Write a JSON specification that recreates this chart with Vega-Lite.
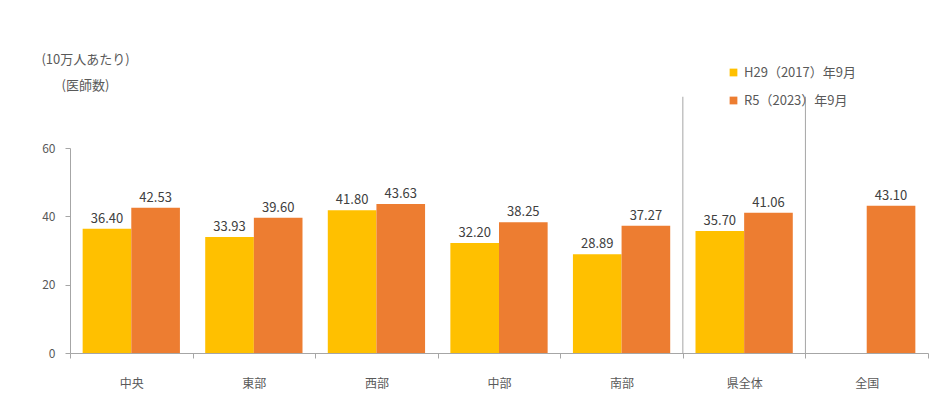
{
  "$schema": "https://vega.github.io/schema/vega-lite/v6.json",
  "width": 858,
  "height": 205,
  "autosize": {"type": "none"},
  "padding": {"left": 70, "top": 148, "right": 17, "bottom": 48},
  "background": "white",
  "config": {
    "view": {"stroke": null},
    "font": "Noto Sans CJK JP",
    "axis": {"labelFont": "Noto Sans CJK JP", "titleFont": "Noto Sans CJK JP"},
    "legend": {"labelFont": "Noto Sans CJK JP"}
  },
  "datasets": {
    "bars": [
      {"region": "中央", "period": "H29（2017）年9月", "value": 36.40},
      {"region": "中央", "period": "R5（2023）年9月", "value": 42.53},
      {"region": "東部", "period": "H29（2017）年9月", "value": 33.93},
      {"region": "東部", "period": "R5（2023）年9月", "value": 39.60},
      {"region": "西部", "period": "H29（2017）年9月", "value": 41.80},
      {"region": "西部", "period": "R5（2023）年9月", "value": 43.63},
      {"region": "中部", "period": "H29（2017）年9月", "value": 32.20},
      {"region": "中部", "period": "R5（2023）年9月", "value": 38.25},
      {"region": "南部", "period": "H29（2017）年9月", "value": 28.89},
      {"region": "南部", "period": "R5（2023）年9月", "value": 37.27},
      {"region": "県全体", "period": "H29（2017）年9月", "value": 35.70},
      {"region": "県全体", "period": "R5（2023）年9月", "value": 41.06},
      {"region": "全国", "period": "R5（2023）年9月", "value": 43.10}
    ],
    "separators": [
      {"region": "県全体"},
      {"region": "全国"}
    ]
  },
  "layer": [
    {
      "data": {"name": "bars"},
      "mark": {"type": "bar"},
      "encoding": {
        "x": {
          "field": "region", "type": "nominal",
          "sort": ["中央", "東部", "西部", "中部", "南部", "県全体", "全国"],
          "scale": {"paddingInner": 0, "paddingOuter": 0},
          "axis": {
            "title": null, "labelAngle": 0, "labelFontSize": 12, "labelColor": "#595959",
            "labelPadding": 20, "tickBand": "extent", "tickSize": 5, "tickColor": "#A6A6A6",
            "domainColor": "#A6A6A6"
          }
        },
        "xOffset": {
          "field": "period", "type": "nominal",
          "sort": ["H29（2017）年9月", "R5（2023）年9月"],
          "scale": {"paddingInner": 0, "paddingOuter": 0.26}
        },
        "y": {
          "field": "value", "type": "quantitative",
          "scale": {"domain": [0, 60]},
          "axis": {
            "values": [0, 20, 40, 60], "grid": false, "labelFontSize": 12, "labelColor": "#595959",
            "tickSize": 5, "tickColor": "#A6A6A6", "domainColor": "#A6A6A6", "labelPadding": 10,
            "title": ["(10万人あたり)", "(医師数)"],
            "titleAngle": 0, "titleAlign": "center", "titleBaseline": "top",
            "titleX": 15, "titleY": -95, "titleFontSize": 13, "titleFontWeight": "normal",
            "titleColor": "#595959", "titleLineHeight": 26
          }
        },
        "color": {
          "field": "period", "type": "nominal",
          "sort": ["H29（2017）年9月", "R5（2023）年9月"],
          "scale": {"range": ["#FFC000", "#ED7D31"]},
          "legend": {
            "title": null, "orient": "none", "legendX": 657, "legendY": -82,
            "direction": "vertical", "symbolType": "square", "symbolSize": 60,
            "labelFontSize": 13, "labelColor": "#595959", "rowPadding": 14,
            "symbolStrokeWidth": 0
          }
        }
      }
    },
    {
      "data": {"name": "bars"},
      "mark": {"type": "text", "dy": -10, "fontSize": 13, "color": "#404040"},
      "encoding": {
        "x": {"field": "region", "type": "nominal", "sort": ["中央", "東部", "西部", "中部", "南部", "県全体", "全国"]},
        "xOffset": {"field": "period", "type": "nominal", "sort": ["H29（2017）年9月", "R5（2023）年9月"]},
        "y": {"field": "value", "type": "quantitative"},
        "text": {"field": "value", "type": "quantitative", "format": ".2f"}
      }
    },
    {
      "data": {"name": "separators"},
      "mark": {"type": "rule", "color": "#A6A6A6", "strokeWidth": 1, "clip": false},
      "encoding": {
        "x": {"field": "region", "type": "nominal", "sort": ["中央", "東部", "西部", "中部", "南部", "県全体", "全国"], "bandPosition": 0},
        "y": {"datum": 0},
        "y2": {"datum": 75}
      }
    }
  ]
}
